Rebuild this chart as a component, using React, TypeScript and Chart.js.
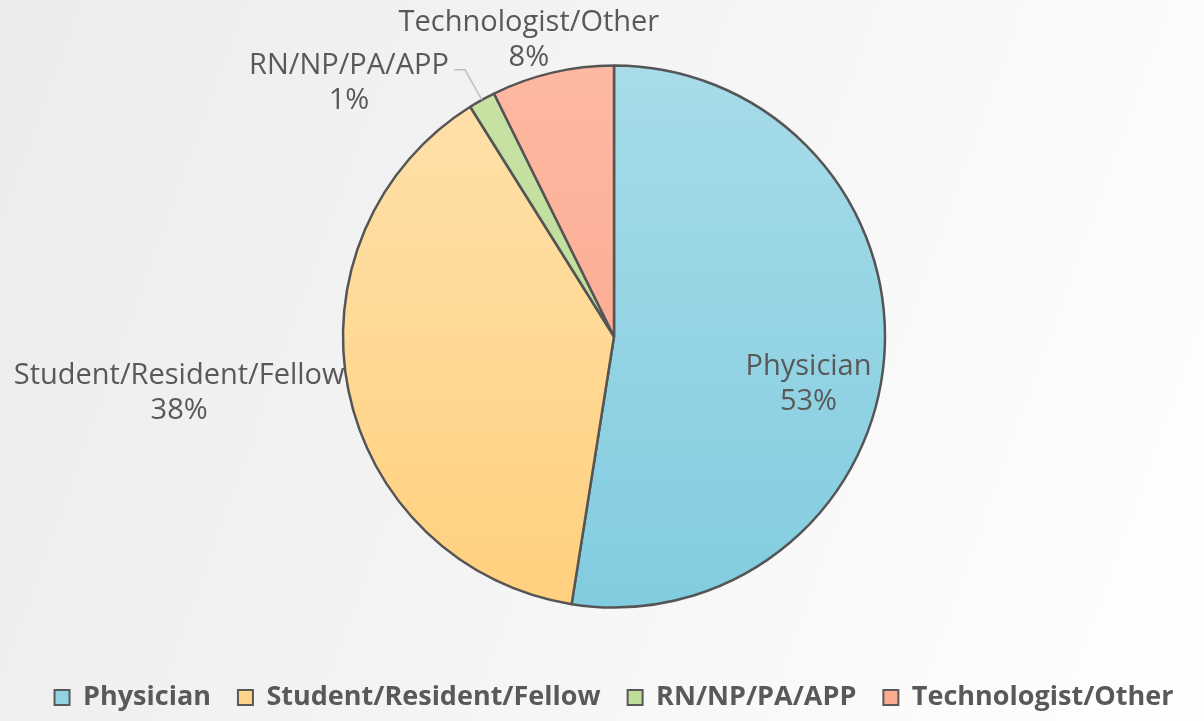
import React, { useEffect, useRef } from "react";
import { Chart, registerables } from "chart.js";

Chart.register(...registerables);

const categories = ["Physician", "Student/Resident/Fellow", "RN/NP/PA/APP", "Technologist/Other"];
const values = [52.5, 38.6, 1.6, 7.3];
const percentLabels = ["53%", "38%", "1%", "8%"];

const gradTop = ["#abdde9", "#ffe3b0", "#c9e3a6", "#ffbaa4"];
const gradBottom = ["#7ecbdf", "#ffcf7a", "#b8d98e", "#f9a187"];
const legendColors = ["#92d3e3", "#ffd48a", "#bfdd98", "#fcaa90"];

const TEXT = "#595959";
const FONT = "'Open Sans', sans-serif";

const labelPlugin = {
  id: "pieLabels",
  afterDatasetsDraw(chart: any) {
    const meta = chart.getDatasetMeta(0);
    const ctx = chart.ctx;
    ctx.save();
    ctx.fillStyle = TEXT;
    ctx.font = `29px ${FONT}`;
    ctx.textBaseline = "middle";
    ctx.textAlign = "center";
    const lh = 35;
    const draw = (lines: string[], cx: number, cy: number) => {
      ctx.fillText(lines[0], cx, cy - lh / 2);
      ctx.fillText(lines[1], cx, cy + lh / 2);
    };
    meta.data.forEach((arc: any, i: number) => {
      const { x, y, startAngle, endAngle, outerRadius } = arc;
      const mid = (startAngle + endAngle) / 2;
      const dx = Math.cos(mid);
      const dy = Math.sin(mid);
      const lines = [categories[i], percentLabels[i]];
      if (i === 0) {
        draw(lines, x + dx * outerRadius * 0.72, y + dy * outerRadius * 0.72 + 32);
      } else if (i === 1) {
        const ax = x + dx * (outerRadius + 2);
        const ay = y + dy * (outerRadius + 2);
        const w = ctx.measureText(lines[0]).width;
        draw(lines, ax - w / 2 - 2, ay + 2);
      } else if (i === 2) {
        const ex = x + dx * outerRadius;
        const ey = y + dy * outerRadius;
        const bx = ex - 17;
        const by = ey - 30;
        ctx.strokeStyle = "#bfbfbf";
        ctx.lineWidth = 1.5;
        ctx.beginPath();
        ctx.moveTo(ex, ey);
        ctx.lineTo(bx, by);
        ctx.lineTo(bx - 11, by);
        ctx.stroke();
        const w = ctx.measureText(lines[0]).width;
        draw(lines, bx - 16 - w / 2, by + lh / 2 - 4);
      } else {
        const ax = x + dx * (outerRadius + 33);
        const ay = y + dy * (outerRadius + 33);
        draw(lines, ax - 16, ay);
      }
    });
    ctx.restore();
  },
};

export default function App() {
  const ref = useRef<HTMLCanvasElement>(null);
  useEffect(() => {
    document.body.style.margin = "0";
    const canvas = ref.current!;
    const chart = new Chart(canvas, {
      type: "pie",
      data: {
        labels: categories,
        datasets: [
          {
            data: values,
            backgroundColor: (c: any) => {
              const area = c.chart.chartArea;
              const i = c.dataIndex;
              if (!area) return legendColors[i];
              const g = c.chart.ctx.createLinearGradient(0, area.top, 0, area.bottom);
              g.addColorStop(0, gradTop[i]);
              g.addColorStop(1, gradBottom[i]);
              return g;
            },
            borderColor: "#555555",
            borderWidth: 2.5,
          },
        ],
      },
      options: {
        animation: false,
        responsive: false,
        radius: 271,
        layout: { padding: { top: 16, left: 24, right: 0, bottom: 0 } },
        plugins: {
          tooltip: { enabled: false },
          legend: {
            position: "bottom",
            labels: {
              color: TEXT,
              font: { family: FONT, size: 27, weight: "bold" },
              boxWidth: 15,
              boxHeight: 15,
              padding: 27,
              generateLabels: () =>
                categories.map((c, i) => ({
                  text: c,
                  fillStyle: legendColors[i],
                  strokeStyle: "#595959",
                  lineWidth: 2,
                  fontColor: TEXT,
                  index: i,
                  hidden: false,
                })),
            },
          },
        },
      },
      plugins: [labelPlugin],
    });
    return () => chart.destroy();
  }, []);
  return (
    <div
      style={{
        position: "absolute",
        left: 0,
        top: 0,
        width: 1204,
        height: 721,
        background: "linear-gradient(110deg, #ececec 0%, #f4f4f4 45%, #ffffff 100%)",
      }}
    >
      <canvas ref={ref} width={1204} height={721} style={{ display: "block" }} />
    </div>
  );
}
